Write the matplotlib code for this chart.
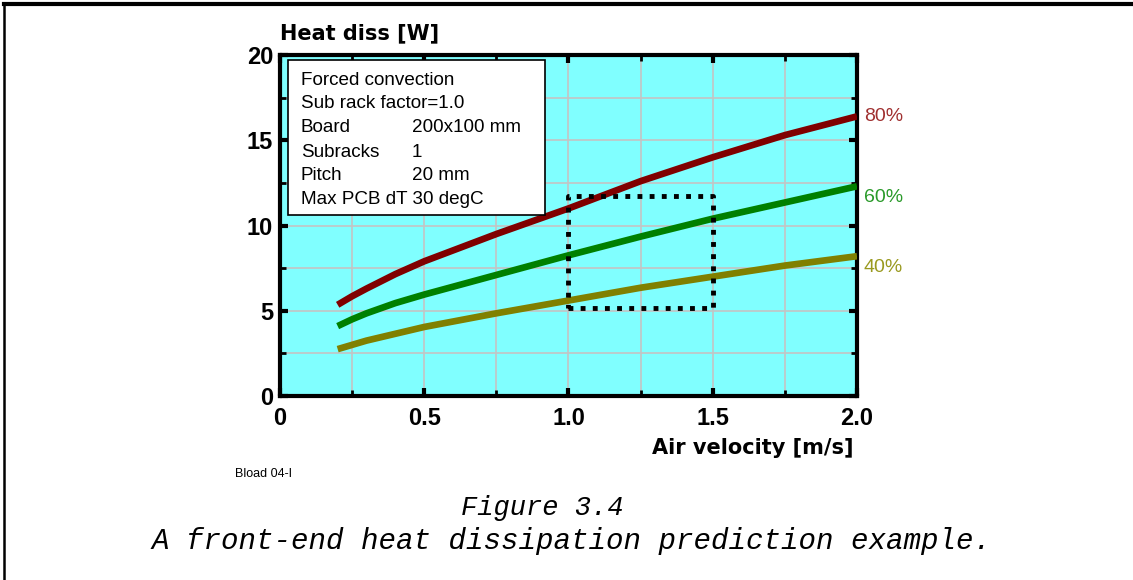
import numpy as np
import matplotlib
matplotlib.use("Agg")
import matplotlib.pyplot as plt
from matplotlib.ticker import MultipleLocator

# air velocity [m/s] and heat dissipation [W]
velocity = [0.2, 0.25, 0.3, 0.4, 0.5, 0.75, 1.0, 1.25, 1.5, 1.75, 2.0]
diss_80 = [5.35, 5.85, 6.3, 7.15, 7.9, 9.5, 11.0, 12.6, 14.0, 15.3, 16.4]
diss_60 = [4.1, 4.5, 4.85, 5.45, 5.95, 7.1, 8.25, 9.35, 10.4, 11.35, 12.3]
diss_40 = [2.75, 3.0, 3.25, 3.65, 4.05, 4.85, 5.6, 6.35, 7.0, 7.65, 8.2]
curve_labels = ["80%", "60%", "40%"]

# region marked by the dotted box
box_x = [1.0, 1.5]
box_y = [5.15, 11.75]

info_rows = [
    ("Forced convection", ""),
    ("Sub rack factor=1.0", ""),
    ("Board", "200x100 mm"),
    ("Subracks", "1"),
    ("Pitch", "20 mm"),
    ("Max PCB dT 30 degC", ""),
]

RED = "#800000"
GREEN = "#008000"
OLIVE = "#808000"
LABEL_COLS = ["#a03030", "#2a9a2a", "#9a9a20"]
LABEL_DY = [0, -8, -8]
TICKFONT = {"family": "Liberation Sans", "weight": "bold", "size": 17}
HEADFONT = {"family": "DejaVu Sans", "weight": "bold", "size": 15}

fig = plt.figure(figsize=(11.33, 5.80), dpi=100)
ax = fig.add_axes([0.2471, 0.3172, 0.5093, 0.588])
ax.set_facecolor("#80ffff")

for ys, col, lab, lc, dy in zip([diss_80, diss_60, diss_40], [RED, GREEN, OLIVE],
                                curve_labels, LABEL_COLS, LABEL_DY):
    ax.plot(velocity, ys, color=col, lw=4.8, solid_capstyle="butt", zorder=3)
    ax.annotate(lab, xy=(velocity[-1], ys[-1]), xytext=(5, dy), textcoords="offset points",
                color=lc, fontsize=14, va="center", ha="left", family="Liberation Sans",
                annotation_clip=False)

bx = [box_x[0], box_x[1], box_x[1], box_x[0], box_x[0]]
by = [box_y[0], box_y[0], box_y[1], box_y[1], box_y[0]]
ax.plot(bx, by, color="black", lw=3.5, linestyle=(0, (1, 1.5)), zorder=4)

ax.set_xlim(0, 2.0)
ax.set_ylim(0, 20)
ax.xaxis.set_minor_locator(MultipleLocator(0.25))
ax.yaxis.set_minor_locator(MultipleLocator(2.5))
ax.set_xticks([0, 0.5, 1.0, 1.5, 2.0])
ax.set_xticklabels(["0", "0.5", "1.0", "1.5", "2.0"], fontdict=TICKFONT)
ax.set_yticks([0, 5, 10, 15, 20])
ax.set_yticklabels(["0", "5", "10", "15", "20"], fontdict=TICKFONT)
ax.grid(which="both", color="#c4c4c4", lw=1.2, zorder=0)
ax.set_axisbelow(True)
ax.tick_params(which="major", direction="in", length=6, width=3, top=True, right=True)
ax.tick_params(axis="x", which="major", pad=8)
ax.tick_params(axis="y", which="major", pad=5)
ax.tick_params(which="minor", direction="in", length=4, width=2, top=True, right=True)
for s in ax.spines.values():
    s.set_linewidth(3)

fig.text(853 / 1133, 1 - 448 / 580, "Air velocity [m/s]", fontdict=HEADFONT, ha="right", va="center")
fig.text(280 / 1133, 1 - 33 / 580, "Heat diss [W]", fontdict=HEADFONT, va="center")

# info box
bx0, by0, bw, bh = 288 / 1133, 1 - 215 / 580, 257 / 1133, 155 / 580
fig.patches.append(plt.Rectangle((bx0, by0), bw, bh, transform=fig.transFigure,
                                 facecolor="white", edgecolor="black", lw=1.2, zorder=5))
for i, (a, b) in enumerate(info_rows):
    yy = 1 - (80 + i * 24) / 580
    fig.text(301 / 1133, yy, a, fontsize=13.6, family="Liberation Sans", va="center", zorder=6)
    if b:
        fig.text(412 / 1133, yy, b, fontsize=13.6, family="Liberation Sans", va="center", zorder=6)

fig.text(235 / 1133, 1 - 474 / 580, "Bload 04-I", fontsize=9, family="Liberation Sans", va="center")

mono = {"family": "Liberation Mono", "style": "italic"}
fig.text(542 / 1133, 1 - 508 / 580, "Figure 3.4", fontdict=mono, fontsize=19.5, ha="center", va="center")
fig.text(571 / 1133, 1 - 541 / 580, "A front-end heat dissipation prediction example.",
         fontdict=mono, fontsize=21, ha="center", va="center")

# page frame: left and top edge
fig.add_artist(plt.Line2D([4 / 1133, 4 / 1133], [0, 1 - 4 / 580], transform=fig.transFigure,
                          color="black", lw=1.8))
fig.add_artist(plt.Line2D([4 / 1133, 1], [1 - 4 / 580, 1 - 4 / 580], transform=fig.transFigure,
                          color="black", lw=3))

fig.savefig("out.png", dpi=100)
